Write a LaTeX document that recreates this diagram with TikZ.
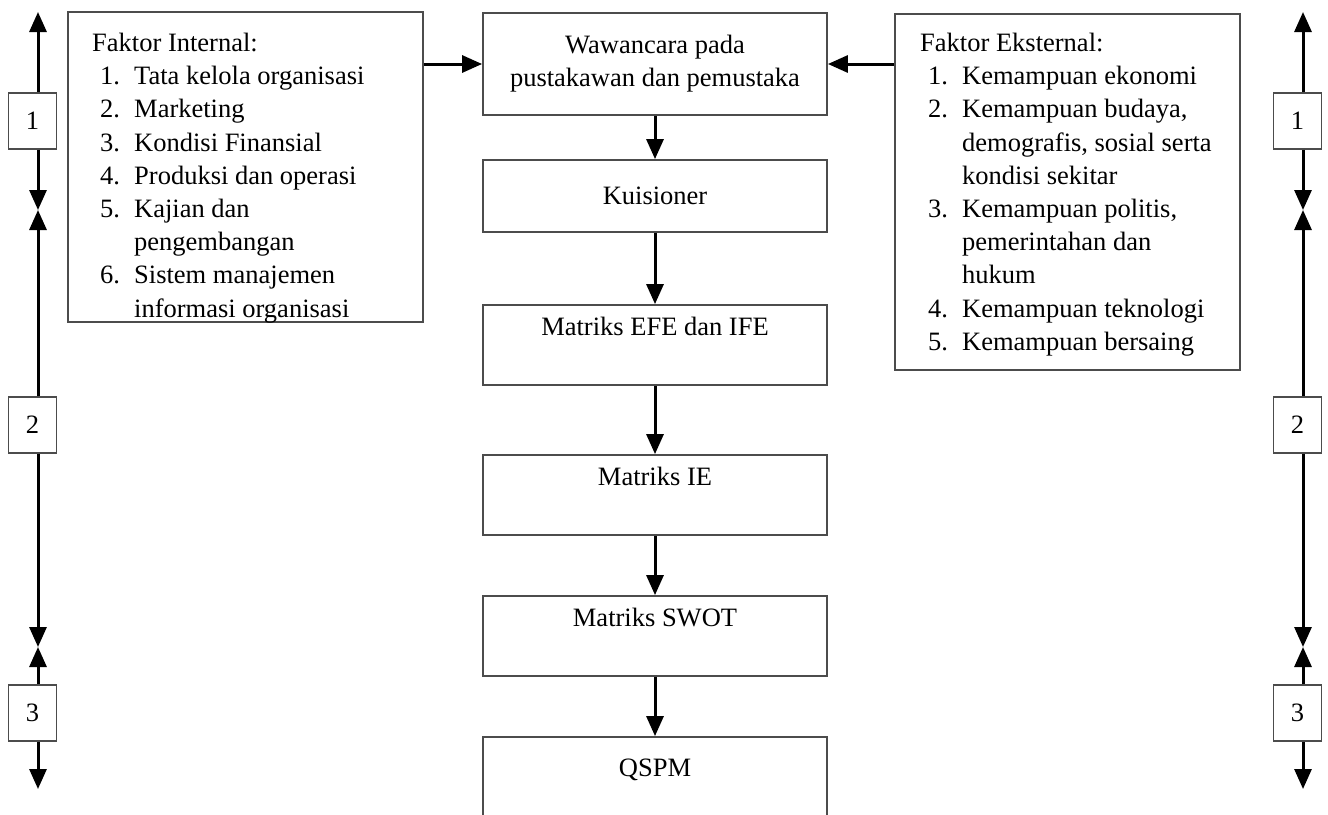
\documentclass[tikz,border=0pt]{standalone}
\usepackage{fontspec}
\setmainfont{Liberation Serif}
\usetikzlibrary{arrows.meta,positioning}

\newcommand{\butir}[2]{\hspace*{8pt}\makebox[34pt][l]{#1}#2}
\newcommand{\lanjut}[1]{\hspace*{42pt}#1}

\begin{document}
\begin{tikzpicture}
	[x=1pt,y=-1pt,>={Triangle[length=20pt,width=17pt]},
	every node/.style={font=\fontsize{26.5}{33.2}\selectfont}]
	\tikzstyle{stepbox} = [draw=black!70, line width=1.8pt, minimum width=344pt, inner sep=0pt];
	\tikzstyle{numbox} = [draw=black!70, line width=1.8pt, fill=white, minimum width=48pt, minimum height=56pt, inner sep=0pt];
	\tikzstyle{listbox} = [draw=black!70, line width=1.8pt, inner sep=0pt];
	\tikzstyle{edges} = [line width=3pt, ->];
	
	\clip (0,0) rectangle (1328,814);
	
	% alur tengah
	\node[stepbox, minimum height=102pt, align=center] (wawancara) at (655,64) {Wawancara pada\\pustakawan dan pemustaka};
	\node[stepbox, minimum height=72pt] (kuisioner) at (655,196) {Kuisioner};
	\node[stepbox, minimum height=80pt] (efe) at (655,345) {};
	\node[stepbox, minimum height=80pt] (ie) at (655,495) {};
	\node[stepbox, minimum height=80pt] (swot) at (655,636) {};
	\node[stepbox, minimum height=110pt] (qspm) at (655,792) {};
	\node (efet) at ([yshift=-22pt]efe.north) {Matriks EFE dan IFE};
	\node (iet) at ([yshift=-22pt]ie.north) {Matriks IE};
	\node (swott) at ([yshift=-22pt]swot.north) {Matriks SWOT};
	\node (qspmt) at ([yshift=-34pt]qspm.north) {QSPM};
	
	\draw[edges] (wawancara) -- (kuisioner);
	\draw[edges] (kuisioner) -- (efe);
	\draw[edges] (efe) -- (ie);
	\draw[edges] (ie) -- (swot);
	\draw[edges] (swot) -- (qspm);
	
	% faktor internal dan eksternal
	\node[listbox, minimum width=355pt, minimum height=310pt] (internal) at (245.5,167) {};
	\node[listbox, minimum width=345pt, minimum height=356pt] (eksternal) at (1067.5,192) {};
	\node[anchor=north west, inner sep=0pt, align=left] (internalt) at (92,33) {Faktor Internal:\\
		\butir{1.}{Tata kelola organisasi}\\
		\butir{2.}{Marketing}\\
		\butir{3.}{Kondisi Finansial}\\
		\butir{4.}{Produksi dan operasi}\\
		\butir{5.}{Kajian dan}\\
		\lanjut{pengembangan}\\
		\butir{6.}{Sistem manajemen}\\
		\lanjut{informasi organisasi}};
	\node[anchor=north west, inner sep=0pt, align=left] (eksternalt) at (920,33) {Faktor Eksternal:\\
		\butir{1.}{Kemampuan ekonomi}\\
		\butir{2.}{Kemampuan budaya,}\\
		\lanjut{demografis, sosial serta}\\
		\lanjut{kondisi sekitar}\\
		\butir{3.}{Kemampuan politis,}\\
		\lanjut{pemerintahan dan}\\
		\lanjut{hukum}\\
		\butir{4.}{Kemampuan teknologi}\\
		\butir{5.}{Kemampuan bersaing}};
	
	\draw[edges] (internal.east |- wawancara.west) -- (wawancara.west);
	\draw[edges] (eksternal.west |- wawancara.east) -- (wawancara.east);
	
	% tahap 1-3 di kedua sisi
	\foreach \sisi/\xx in {l/38, r/1303} {
		\coordinate (atas\sisi) at (\xx,12);
		\coordinate (sambung1\sisi) at (\xx,210);
		\coordinate (sambung2\sisi) at (\xx,647);
		\coordinate (bawah\sisi) at (\xx,789);
		\node[numbox] (tahap1\sisi) at (\xx-5.5,121) {1};
		\node[numbox] (tahap2\sisi) at (\xx-5.5,425) {2};
		\node[numbox] (tahap3\sisi) at (\xx-5.5,713) {3};
		\draw[edges] (atas\sisi |- tahap1\sisi.north) -- (atas\sisi);
		\draw[edges] (atas\sisi |- tahap1\sisi.south) -- (sambung1\sisi);
		\draw[edges] (atas\sisi |- tahap2\sisi.north) -- (sambung1\sisi);
		\draw[edges] (atas\sisi |- tahap2\sisi.south) -- (sambung2\sisi);
		\draw[edges] (atas\sisi |- tahap3\sisi.north) -- (sambung2\sisi);
		\draw[edges] (atas\sisi |- tahap3\sisi.south) -- (bawah\sisi);
	}
\end{tikzpicture}
\end{document}
